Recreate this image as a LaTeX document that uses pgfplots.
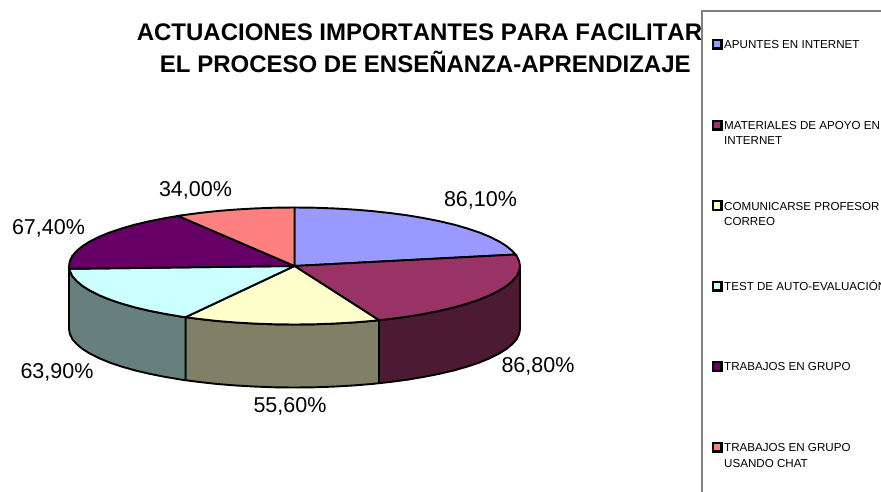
\documentclass[border=0pt]{standalone}
\usepackage{pgfplots}
\pgfplotsset{compat=1.18}
\usepackage{fontspec}
\setmainfont{Liberation Sans}
\definecolor{cBlue}{HTML}{9999FF}
\definecolor{cMaroon}{HTML}{993366}
\definecolor{cYellow}{HTML}{FFFFCC}
\definecolor{cCyan}{HTML}{CCFFFF}
\definecolor{cPurple}{HTML}{660066}
\definecolor{cPink}{HTML}{FF8080}
\definecolor{sMaroon}{HTML}{4D1A33}
\definecolor{sYellow}{HTML}{808066}
\definecolor{sCyan}{HTML}{668080}
\newcommand{\lab}[3]{\node[anchor=base,inner sep=0pt,font=\fontsize{21.5}{24}\selectfont] at (axis cs:#1,#2) {#3};}
\newcommand{\ttl}[3]{\node[anchor=base,inner sep=0pt,font=\fontsize{24}{28}\selectfont\bfseries\addfontfeature{Kerning=Off}] at (axis cs:#1,#2) {#3};}
\newcommand{\leg}[2]{\node[anchor=base west,inner sep=0pt,font=\fontsize{11.6}{14}\selectfont] at (axis cs:724,#1) {#2};}
\newcommand{\key}[2]{\draw[black,line width=2.4pt,fill=#2] (axis cs:713,#1-4.3) rectangle (axis cs:721.3,#1+4.3);}
\begin{document}
\begin{tikzpicture}
\path[use as bounding box,clip] (0,0) rectangle (881pt,491pt);
\begin{axis}[at={(0,0)},anchor=south west,scale only axis,width=881pt,height=491pt,
  xmin=0,xmax=881,ymin=0,ymax=491,y dir=reverse,hide axis,clip=false,
  every axis plot/.append style={line width=1.9pt,draw=black,line join=round,no markers}]
% sides
\addplot[fill=sMaroon] coordinates {(520,266)(519.1,271.1)(516.6,276.2)(512.3,281.1)(506.4,286)(498.9,290.7)(489.8,295.25)(479.2,299.6)(467.2,303.6)(454,307.4)(439.5,310.8)(423.8,313.9)(407.3,316.7)(389.8,319)(379,320.2)
 (379,383.2)(389.8,382)(407.3,379.7)(423.8,376.9)(439.5,373.8)(454,370.4)(467.2,366.6)(479.2,362.6)(489.8,358.25)(498.9,353.7)(506.4,349)(512.3,344.1)(516.6,339.2)(519.1,334.1)(520,329)} -- cycle;
\addplot[fill=sYellow] coordinates {(379,320.2)(371.6,321)(352.9,322.5)(333.7,323.6)(314.2,324.3)(294.5,324.5)(274.8,324.3)(255.3,323.6)(236.1,322.5)(217.4,321)(199.2,319)(185.5,317.2)
 (185.5,380.2)(199.2,382)(217.4,384)(236.1,385.5)(255.3,386.6)(274.8,387.3)(294.5,387.5)(314.2,387.3)(333.7,386.6)(352.9,385.5)(371.6,384)(379,383.2)} -- cycle;
\addplot[fill=sCyan] coordinates {(185.5,317.2)(181.7,316.7)(165.2,313.9)(149.5,310.8)(135,307.4)(121.8,303.6)(109.8,299.6)(99.2,295.25)(90.1,290.7)(82.6,286)(76.7,281.1)(72.4,276.2)(69.9,271.1)(69,266)
 (69,329)(69.9,334.1)(72.4,339.2)(76.7,344.1)(82.6,349)(90.1,353.7)(99.2,358.25)(109.8,362.6)(121.8,366.6)(135,370.4)(149.5,373.8)(165.2,376.9)(181.7,379.7)(185.5,380.2)} -- cycle;
% top slices
\addplot[fill=cBlue] coordinates {(294.5,266)(294.5,207.5)(314.2,207.7)(333.7,208.4)(352.9,209.5)(371.6,211)(389.8,213)(407.3,215.3)(423.8,218.1)(439.5,221.2)(454,224.6)(467.2,228.4)(479.2,232.4)(489.8,236.75)(498.9,241.3)(506.4,246)(512.3,250.9)(515.6,254.5)} -- cycle;
\addplot[fill=cMaroon] coordinates {(294.5,266)(515.6,254.5)(516.6,255.8)(519.1,260.9)(520,266)(519.1,271.1)(516.6,276.2)(512.3,281.1)(506.4,286)(498.9,290.7)(489.8,295.25)(479.2,299.6)(467.2,303.6)(454,307.4)(439.5,310.8)(423.8,313.9)(407.3,316.7)(389.8,319)(379,320.2)} -- cycle;
\addplot[fill=cYellow] coordinates {(294.5,266)(379,320.2)(371.6,321)(352.9,322.5)(333.7,323.6)(314.2,324.3)(294.5,324.5)(274.8,324.3)(255.3,323.6)(236.1,322.5)(217.4,321)(199.2,319)(185.5,317.2)} -- cycle;
\addplot[fill=cCyan] coordinates {(294.5,266)(185.5,317.2)(181.7,316.7)(165.2,313.9)(149.5,310.8)(135,307.4)(121.8,303.6)(109.8,299.6)(99.2,295.25)(90.1,290.7)(82.6,286)(76.7,281.1)(72.4,276.2)(69.9,271.1)(69.3,268.8)} -- cycle;
\addplot[fill=cPurple] coordinates {(294.5,266)(69.3,268.8)(69,266)(69.9,260.9)(72.4,255.8)(76.7,250.9)(82.6,246)(90.1,241.3)(99.2,236.75)(109.8,232.4)(121.8,228.4)(135,224.6)(149.5,221.2)(165.2,218.1)(178,215.9)} -- cycle;
\addplot[fill=cPink] coordinates {(294.5,266)(178,215.9)(181.7,215.3)(199.2,213)(217.4,211)(236.1,209.5)(255.3,208.4)(274.8,207.7)(294.5,207.5)} -- cycle;
% data labels
\lab{480.5}{206.7}{86,10\%}
\lab{538}{372.7}{86,80\%}
\lab{290}{412.7}{55,60\%}
\lab{57}{378.3}{63,90\%}
\lab{48.5}{234}{67,40\%}
\lab{195.5}{196.7}{34,00\%}
% title
\ttl{419.5}{40.7}{ACTUACIONES IMPORTANTES PARA FACILITAR}
\ttl{425.3}{72.3}{EL PROCESO DE ENSEÑANZA-APRENDIZAJE}
% legend
\fill[white] (axis cs:702,11) rectangle (axis cs:890,500);
\draw[gray,line width=1.8pt] (axis cs:890,11) -- (axis cs:702,11) -- (axis cs:702,500);
\key{44}{cBlue}\leg{48.3}{APUNTES EN INTERNET}
\key{125}{cMaroon}\leg{129.3}{MATERIALES DE APOYO EN}\leg{144.3}{INTERNET}
\key{205.5}{cYellow}\leg{210}{COMUNICARSE PROFESOR}\leg{225.7}{CORREO}
\key{286}{cCyan}\leg{290}{TEST DE AUTO-EVALUACIÓN}
\key{366.5}{cPurple}\leg{370.7}{TRABAJOS EN GRUPO}
\key{447}{cPink}\leg{451}{TRABAJOS EN GRUPO}\leg{467.3}{USANDO CHAT}
\end{axis}
\end{tikzpicture}
\end{document}
